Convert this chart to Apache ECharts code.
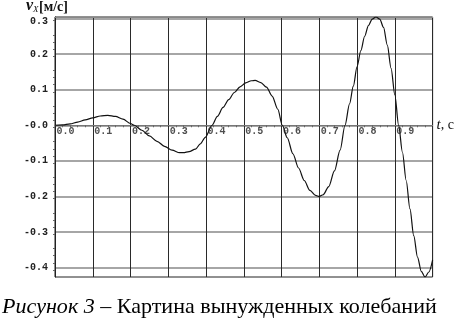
<!DOCTYPE html>
<html>
<head>
<meta charset="utf-8">
<script src="https://cdn.jsdelivr.net/npm/echarts@6/dist/echarts.min.js"></script>
<style>
html,body{margin:0;padding:0;background:#fff;}
#c{width:457px;height:321px;}
</style>
</head>
<body>
<div id="c"></div>
<script>
// ---- data ----
const tValues = [0, 0.02, 0.04, 0.06, 0.08, 0.10, 0.12, 0.14, 0.16, 0.18, 0.20, 0.21,
  0.23, 0.25, 0.27, 0.29, 0.31, 0.33, 0.34, 0.355, 0.372, 0.385, 0.398, 0.416,
  0.43, 0.445, 0.46, 0.475, 0.49, 0.505, 0.52, 0.53, 0.545, 0.56, 0.575, 0.59, 0.602,
  0.615, 0.63, 0.645, 0.66, 0.675, 0.69, 0.70, 0.71, 0.725, 0.74, 0.755, 0.768,
  0.78, 0.79, 0.80, 0.81, 0.82, 0.83, 0.84, 0.85, 0.86, 0.87, 0.88, 0.89, 0.90, 0.91,
  0.92, 0.93, 0.94, 0.95, 0.96, 0.97, 0.98, 0.99, 1.0];
const vValues = [0, 0.001, 0.004, 0.009, 0.015, 0.021, 0.026, 0.028, 0.025, 0.017, 0.005, 0,
  -0.014, -0.030, -0.045, -0.059, -0.070, -0.077, -0.077, -0.074, -0.067, -0.052, -0.034, 0,
  0.025, 0.050, 0.072, 0.092, 0.108, 0.119, 0.125, 0.126, 0.120, 0.107, 0.082, 0.045, 0,
  -0.035, -0.080, -0.120, -0.155, -0.183, -0.197, -0.200, -0.195, -0.172, -0.128, -0.070, 0,
  0.060, 0.110, 0.165, 0.210, 0.250, 0.280, 0.298, 0.304, 0.298, 0.275, 0.225, 0.160, 0.085, 0,
  -0.075, -0.155, -0.235, -0.310, -0.370, -0.410, -0.426, -0.412, -0.378];
const xTickValues = [0, 0.1, 0.2, 0.3, 0.4, 0.5, 0.6, 0.7, 0.8, 0.9];
const yTickValues = [-0.4, -0.3, -0.2, -0.1, 0, 0.1, 0.2, 0.3];
const yMin = -0.426, yMax = 0.304;
const xMin = 0, xMax = 1.0;

const seriesData = tValues.map((t, i) => [t, vValues[i]]);
const xLabelData = xTickValues.map(t => [t, 0]);

const monoFont = '"Liberation Mono", "DejaVu Sans Mono", monospace';
const serif = '"Liberation Serif", "DejaVu Serif", serif';

const chart = echarts.init(document.getElementById('c'), null, {renderer: 'canvas'});
chart.setOption({
  animation: false,
  backgroundColor: '#fff',
  grid: {left: 55, top: 17, width: 380, height: 260, show: true,
    borderColor: '#222', borderWidth: 1, backgroundColor: 'transparent'},
  xAxis: [{
    type: 'value', min: xMin, max: xMax, interval: 0.1,
    axisLine: {show: true, onZero: true, lineStyle: {color: '#777', width: 1}},
    axisTick: {show: false},
    minorTick: {show: true, splitNumber: 5, length: 2, lineStyle: {color: '#666', width: 1}},
    splitLine: {show: true, lineStyle: {color: '#2a2a2a', width: 1}},
    axisLabel: {show: false},
    name: '{t|t}, с', nameLocation: 'end', nameGap: 4,
    nameTextStyle: {fontFamily: serif, fontSize: 14, color: '#111', verticalAlign: 'middle',
      rich: {t: {fontFamily: serif, fontStyle: 'italic', fontSize: 15, color: '#111'}}}
  }, {
    type: 'value', min: xMin, max: xMax, position: 'top',
    axisLine: {show: true, onZero: false, lineStyle: {color: '#888', width: 1}},
    axisTick: {show: false}, axisLabel: {show: false}, splitLine: {show: false}
  }],
  yAxis: {
    type: 'value', min: yMin, max: yMax, interval: 0.1,
    axisLine: {show: true, onZero: false, lineStyle: {color: '#222', width: 1}},
    axisTick: {show: false, customValues: yTickValues},
    minorTick: {show: true, splitNumber: 5, length: 2, lineStyle: {color: '#666', width: 1}},
    splitLine: {show: true, lineStyle: {color: '#888', width: 1.5}},
    axisLabel: {
      customValues: yTickValues,
      formatter: v => (Math.abs(v) < 1e-9 ? '-0.0' : (Math.abs(v - 0.3) < 1e-9 ? '{d|0.3}' : v.toFixed(1))),
      margin: 7,
      fontFamily: monoFont, fontWeight: 'bold', fontSize: 10, color: '#222',
      rich: {d: {fontFamily: monoFont, fontWeight: 'bold', fontSize: 10, color: '#222', padding: [7, 0, 0, 0]}}
    }
  },
  series: [{
    type: 'line', xAxisIndex: 0, yAxisIndex: 0,
    data: seriesData, showSymbol: false, smooth: 0.3, smoothMonotone: 'x',
    lineStyle: {color: '#111', width: 1.2}, silent: true, z: 3
  }, {
    type: 'scatter', xAxisIndex: 0, yAxisIndex: 0,
    data: xLabelData, symbolSize: 1, itemStyle: {color: 'rgba(0,0,0,0)'}, silent: true, z: 4,
    label: {
      show: true, position: [2, 2], align: 'left', verticalAlign: 'top',
      formatter: p => p.value[0].toFixed(1),
      fontFamily: monoFont, fontWeight: 'bold', fontSize: 10, color: '#222'
    }
  }],
  graphic: [
    {type: 'text', left: 26, top: -2, style: {text: 'v', font: 'italic bold 16px ' + serif, fill: '#111'}},
    {type: 'text', left: 33, top: 5, style: {text: 'X', font: 'italic 9px ' + serif, fill: '#111'}},
    {type: 'text', left: 39, top: 0, style: {text: '[м/с]', font: 'bold 14px ' + serif, fill: '#111'}},
    {type: 'text', left: 2, top: 297, scaleX: 1.05, style: {
      text: '{i|Рисунок 3} – Картина вынужденных колебаний',
      font: '21px ' + serif, fill: '#000',
      rich: {i: {font: 'italic 21px ' + serif, fill: '#000'}}
    }}
  ]
});
</script>
</body>
</html>
